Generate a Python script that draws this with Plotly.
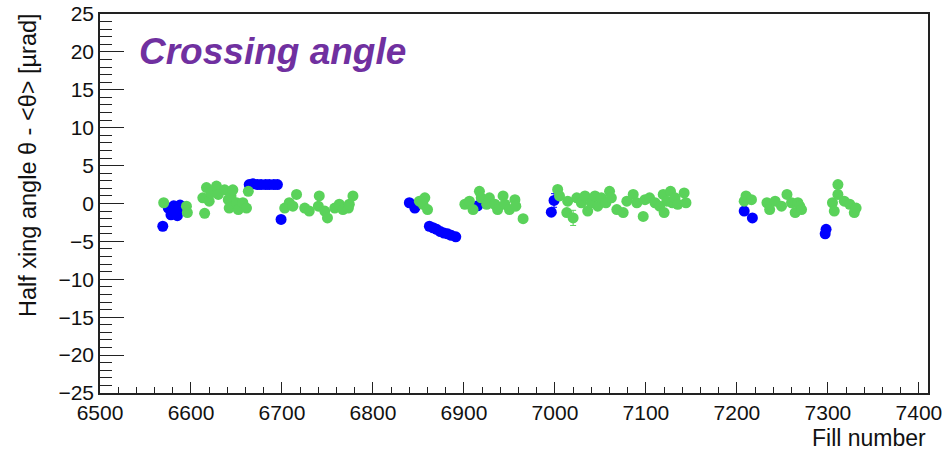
import plotly.graph_objects as go

# Blue series: fill number, half crossing angle offset [µrad], uncertainty
blue_fill = [6569, 6575, 6578, 6581, 6583, 6586, 6588, 6585,
             6664, 6668, 6673, 6677, 6682, 6686, 6691, 6695, 6699,
             6840, 6846, 6862, 6866, 6870, 6874, 6878, 6882, 6886, 6891,
             6915, 6996, 6999, 7208, 7217, 7297, 7298]
blue_val = [-3.0, -0.6, -1.5, -0.3, -1.2, -0.8, -0.2, -1.6,
            2.5, 2.6, 2.5, 2.5, 2.5, 2.5, 2.5, 2.5, -2.1,
            0.1, -0.6, -3.0, -3.2, -3.4, -3.7, -3.9, -4.0, -4.2, -4.4,
            -0.3, -1.15, 0.4, -1.0, -1.9, -4.0, -3.4]
blue_err = [0.2] * len(blue_fill)
blue_err[29] = 0.9

# Green series
green_fill = [6570, 6595, 6596, 6613, 6615, 6617, 6620, 6622, 6628, 6630,
              6637, 6641, 6644, 6646, 6642, 6650, 6652, 6657, 6661, 6663,
              6703, 6708, 6712, 6716, 6725, 6730, 6740, 6741, 6747, 6750,
              6758, 6763, 6767, 6773, 6774, 6778,
              6851, 6855, 6857, 6860,
              6901, 6906, 6910, 6917, 6919, 6925, 6928, 6934, 6937, 6943,
              6945, 6950, 6956, 6957, 6965,
              7003, 7005, 7013, 7014, 7020, 7024, 7029, 7033, 7036, 7040,
              7044, 7047, 7051, 7056, 7060, 7062, 7068, 7075, 7079, 7086,
              7090, 7097, 7099, 7104, 7110, 7115, 7119, 7120, 7123, 7127,
              7129, 7132, 7135, 7142, 7144,
              7208, 7210, 7216, 7233, 7236, 7242, 7249, 7255, 7260, 7264,
              7267, 7269, 7271,
              7305, 7307, 7311, 7311, 7318, 7324, 7329, 7331]
green_val = [0.1, -0.35, -1.2, 0.75, -1.3, 2.1, 0.3, 1.4, 2.3, 1.2,
             1.8, 0.5, 1.0, 1.8, -0.6, 0.1, -0.8, 0.1, -0.6, 1.6,
             -0.6, 0.1, -0.35, 1.2, -0.6, -1.0, -0.35, 1.0, -1.0, -1.9,
             -0.6, -0.1, -0.8, -0.6, -0.1, 1.0,
             0.3, -0.1, 0.75, -0.8,
             -0.1, 0.3, -0.8, 1.6, 0.75, -0.1, 0.75, -0.1, -0.8, 1.0,
             -0.1, -0.8, 0.5, -0.35, -2.0,
             1.85, 1.0, -1.2, 0.3, -1.9, 0.75, 0.1, 1.0, -1.0, 0.1,
             1.0, -0.35, 0.75, 0.1, 1.6, 0.75, -0.8, -1.2, 0.3, 1.2,
             0.1, -1.7, 0.5, 0.75, 0.1, -0.35, 1.2, -1.2, 0.3, 1.6,
             0.1, 0.75, -0.1, 1.4, 0.1,
             0.3, 1.0, 0.5, 0.1, -0.8, 0.3, -0.35, 1.2, 0.1, -1.2,
             0.1, -0.35, -0.8,
             0.1, -1.0, 2.5, 1.2, 0.3, -0.1, -1.2, -0.6]
green_err = [0.2] * len(green_fill)
green_err[59] = 1.0

BLUE = "#0000ff"
GREEN = "#5ad25a"
FONT = "Liberation Sans"

fig = go.Figure()
for xs, ys, es, col in [(blue_fill, blue_val, blue_err, BLUE),
                        (green_fill, green_val, green_err, GREEN)]:
    fig.add_trace(go.Scatter(
        x=xs, y=ys, mode="markers",
        marker=dict(color=col, size=11, line=dict(width=0)),
        error_y=dict(type="data", array=es, color=col, thickness=1, width=3),
        showlegend=False, hoverinfo="x+y",
    ))

axis_common = dict(
    showgrid=False, zeroline=False, ticks="inside", showline=True,
    linecolor="#222", linewidth=1.5, mirror=True, tickcolor="#222",
    tickfont=dict(family=FONT, size=21, color="#111"),
    ticklabeloverflow="allow", automargin=False,
)
fig.update_xaxes(range=[6500, 7410], tickmode="linear", tick0=6500, dtick=100,
                 ticklen=11, tickwidth=1,
                 minor=dict(dtick=20, ticks="inside", ticklen=6, tickcolor="#222"),
                 **axis_common)
fig.update_yaxes(range=[-25, 25], tickmode="linear", tick0=-25, dtick=5,
                 ticklen=24, tickwidth=1,
                 minor=dict(dtick=1, ticks="inside", ticklen=12, tickcolor="#222"),
                 **axis_common)

fig.add_annotation(text="<b><i>Crossing angle</i></b>", xref="paper", yref="paper",
                   x=(137 - 100) / 828, y=(393 - 51) / 379, xanchor="left", yanchor="middle",
                   showarrow=False, font=dict(family=FONT, size=37, color="#7030a0"))
fig.add_annotation(text="Half xing angle θ - <θ> [µrad]", xref="paper", yref="paper",
                   x=(28 - 100) / 828, y=(393 - 11) / 379, xanchor="center", yanchor="top",
                   textangle=-90, showarrow=False,
                   font=dict(family=FONT, size=23.5, color="#111"))
fig.add_annotation(text="Fill number", xref="paper", yref="paper",
                   x=(928 - 100) / 828, y=(393 - 438) / 379, xanchor="right", yanchor="middle",
                   showarrow=False, font=dict(family=FONT, size=23, color="#111"))

fig.update_layout(width=942, height=452, margin=dict(l=100, r=14, t=14, b=59),
                  plot_bgcolor="white", paper_bgcolor="white")

fig.write_html("out.html")
